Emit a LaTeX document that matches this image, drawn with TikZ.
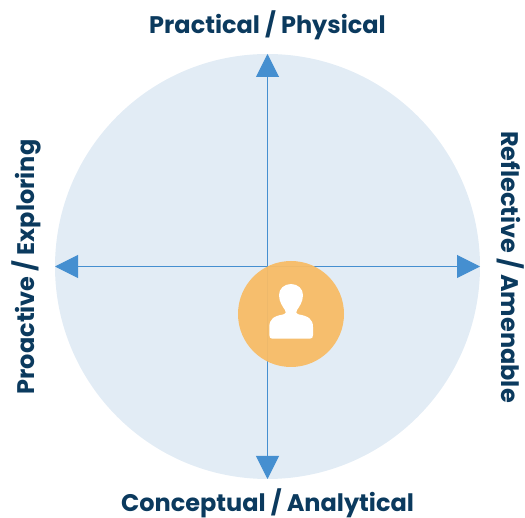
\documentclass[tikz,border=0pt]{standalone}
\usepackage{fontspec}
\setmainfont{Poppins}[BoldFont={* Bold}]
\usetikzlibrary{arrows.meta,positioning}
\definecolor{discblue}{HTML}{E2ECF5}
\definecolor{axisblue}{HTML}{458FD0}
\definecolor{labelnavy}{HTML}{0B3A5E}
\definecolor{hubamber}{HTML}{F8BC66}
\tikzset{
	axis/.style={draw=axisblue,line width=1pt,-{Triangle[length=23pt,width=23pt,fill=axisblue]}},
	caption/.style={text=labelnavy,font=\fontsize{24}{28}\selectfont\bfseries,inner sep=0pt},
}
\begin{document}
\begin{tikzpicture}[x=1pt,y=-1pt]
	\useasboundingbox (0,0) rectangle (525,518);
	\node[circle,fill=discblue,minimum size=425pt,inner sep=0pt] (disc) at (267.5,266.5) {};
	\coordinate (top) at (267.5,54);
	\coordinate (bottom) at (267.5,479);
	\coordinate (left) at (55,266.5);
	\coordinate (right) at (480,266.5);
	\draw[axis] (disc.center) -- (top);
	\draw[axis] (disc.center) -- (bottom);
	\draw[axis] (disc.center) -- (left);
	\draw[axis] (disc.center) -- (right);
	\node[circle,fill=hubamber,fill opacity=0.95,minimum size=106pt,inner sep=0pt] (hub) at (291,314) {};
	% person icon
	\fill[white] (291,284) .. controls (298,284) and (303,289) .. (303,295)
		.. controls (303,302) and (299,307) .. (297,310)
		.. controls (295.5,312) and (296,313.5) .. (299,314.5)
		.. controls (308,316) and (313,319) .. (313,327)
		-- (313,335) .. controls (313,337.5) and (312,338.7) .. (310,338.7)
		-- (272.3,338.7) .. controls (270.3,338.7) and (269.3,337.5) .. (269.3,335)
		-- (269.3,327) .. controls (269.3,319) and (274,316) .. (283,314.5)
		.. controls (286,313.5) and (286.5,312) .. (285,310)
		.. controls (283,307) and (279,302) .. (279,295)
		.. controls (279,289) and (284,284) .. (291,284) -- cycle;
	\node[caption] (practical) at (267.5,25) {Practical / Physical};
	\node[caption] (conceptual) at (267.5,503.5) {Conceptual / Analytical};
	\node[caption,rotate=90] (proactive) at (26,267) {Proactive / Exploring};
	\node[caption,rotate=-90] (reflective) at (510.5,267) {Reflective / Amenable};
\end{tikzpicture}
\end{document}
